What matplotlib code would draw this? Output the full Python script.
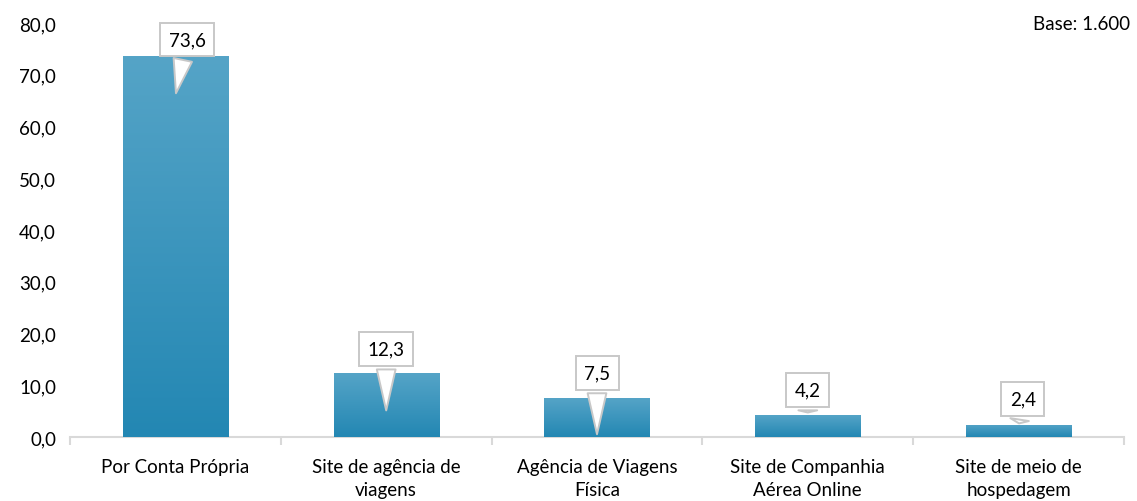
import numpy as np
import matplotlib
matplotlib.use('Agg')
from matplotlib import pyplot as plt
from matplotlib.ticker import FuncFormatter

categories = ['Por Conta Própria', 'Site de agência de\nviagens', 'Agência de Viagens\nFísica',
              'Site de Companhia\nAérea Online', 'Site de meio de\nhospedagem']
values = [73.6, 12.3, 7.5, 4.2, 2.4]
labels = ['73,6', '12,3', '7,5', '4,2', '2,4']
# callout tip and box heights (data units)
tips = [65.9, 4.6, 0.0, 4.2, 2.1]
boxes = [76.8, 17.0, 12.4, 9.1, 7.3]
box_dx = [0.055, 0.0, 0.0, 0.0, 0.02]

plt.rcParams['font.family'] = ['Lato', 'DejaVu Sans']

fig = plt.figure(figsize=(11.37, 5.02), dpi=100)
ax = fig.add_axes([70 / 1137, 64 / 502, 1054 / 1137, 414 / 502])

x = np.arange(len(categories))
bars = ax.bar(x, values, width=0.5, color='#3493bd', zorder=2)

# vertical gradient on each bar
grad = np.linspace(0, 1, 256).reshape(-1, 1)
cmap = matplotlib.colors.LinearSegmentedColormap.from_list('g', ['#2387b3', '#55a4c7'])
for b in bars:
    bx, by, bw, bh = b.get_x(), b.get_y(), b.get_width(), b.get_height()
    im = ax.imshow(grad, extent=[bx, bx + bw, by, by + bh], origin='lower',
                   cmap=cmap, aspect='auto', zorder=3)
    im.set_clip_path(b)

for i, v in enumerate(values):
    ax.annotate(labels[i], xy=(i, tips[i]), xytext=(i + box_dx[i], boxes[i]),
                ha='center', va='center', fontsize=13.5, zorder=5,
                bbox=dict(boxstyle='square,pad=0.45', fc='white', ec='#c8c8c8', lw=1.4),
                arrowprops=dict(arrowstyle='wedge,tail_width=1.0,shrink_factor=0.5',
                                fc='white', ec='#c8c8c8', lw=1.4))

ax.set_xlim(-0.5, len(categories) - 0.5)
ax.set_ylim(0, 80)
ax.set_yticks(np.arange(0, 81, 10))
ax.yaxis.set_major_formatter(FuncFormatter(lambda v, p: f'{v:.1f}'.replace('.', ',')))
ax.set_xticks(x)
ax.set_xticklabels(categories, fontsize=13.5, linespacing=1.45)
ax.set_xticks(np.arange(-0.5, len(categories)), minor=True)
ax.tick_params(axis='x', which='major', length=0, pad=15)
ax.tick_params(axis='x', which='minor', length=6, color='#d9d9d9', width=1.5)
ax.tick_params(axis='y', length=0, labelsize=13.5, pad=10)
for s in ['top', 'right', 'left']:
    ax.spines[s].set_visible(False)
ax.spines['bottom'].set_color('#d9d9d9')
ax.spines['bottom'].set_linewidth(1.5)

fig.text(1130 / 1137, 1 - 25 / 502, 'Base: 1.600', ha='right', va='center', fontsize=13.5)

fig.savefig('out.png', dpi=100)
